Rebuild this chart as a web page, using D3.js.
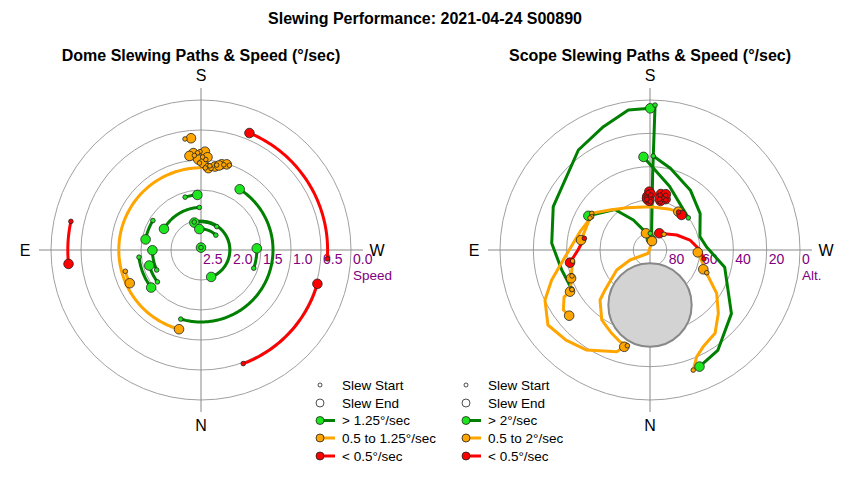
<!DOCTYPE html>
<html>
<head>
<meta charset="utf-8">
<style>
body { margin: 0; background: #fff; }
svg { font-family: Arial, "Liberation Sans", sans-serif; }
</style>
</head>
<body>
<svg width="850" height="480"></svg>
<script src="https://cdn.jsdelivr.net/npm/d3@7"></script>
<script>

// dome slews: [start azimuth, end azimuth, speed °/sec]
var domeSlews = [
  [274, 202.5, 0.39], [339.6, 286.2, 0.48], [102.4, 84, 0.28],
  [183, 15.5, 1.13], [74.3, 65, 1.19],
  [16.3, -147.5, 1.30], [289, 268.3, 1.57], [166.4, 339.3, 2.02], [214, 166.4, 2.03],
  [225, 175.3, 2.15], [163.3, 176.2, 1.58], [177.7, 119.7, 1.79], [121.5, 100.8, 1.56],
  [65.7, 89.7, 1.69], [53.8, 73.3, 1.60], [83.4, 53, 1.46], [180, 180, 2.46],
  [171.8, 174.9, 0.63], [179.4, 182.3, 0.86], [178, 175.5, 0.88], [183, 178.3, 0.99],
  [179, 181.5, 1.05], [187, 185.1, 1.13], [186, 189.5, 1.09], [195, 193.6, 1.03],
  [198.5, 196.7, 1.01], [176, 173, 0.92], [190.5, 192, 1.06], [181, 184, 0.95]
];

// scope slews: speed class and path as [azimuth, altitude]
var scopeClasses = [
  "fast", "fast", "fast", "fast", "fast",
  "mid", "mid", "mid", "mid", "mid", "mid", "mid", "mid", "mid", "mid",
  "slow", "slow", "slow",
  "slow", "slow", "slow", "slow", "slow", "slow", "slow", "slow", "slow", "slow", "slow", "slow"
];
var scopePaths = [
  [[63.5,37.5],[77.2,35.7],[93.9,30.9],[114.1,26.4],[144.4,16.2],[159.3,10.9],[171.2,5],[180.1,5]],
  [[182,3],[182,45],[185,79],[185,83.6]],
  [[182,33.6],[194,39.5],[214,46.7],[234,52.8],[255,59],[267,56],[283,44],[308,28],[326,17.3],[337,14]],
  [[230,60],[197,50],[176,34]],
  [[181,80],[165,78.6],[151,69.4],[139,57.8],[119,47.7]],
  [[122.2,48.7],[135,56],[151.2,61],[180,64],[206.2,62.8],[216.5,61.4]],
  [[119.7,49.7],[104.7,46.6],[83.4,37.6],[73,28.3],[64.5,20.2],[53.7,14],[43,16.1],[32.3,19],[18.1,25.8],[14.9,29.9]],
  [[118.1,49.2],[98.2,48.2]],
  [[81.9,43.1],[70.3,39.7]],
  [[71.6,40.7],[62.5,35.9]],
  [[63.1,37.5],[61.3,31.2],[55.3,26.8],[50.9,27.5]],
  [[13.3,31],[18.1,32.1],[24.7,35],[34.6,39],[45,47.6],[48.4,53.9],[59,66.7],[63.4,76.6],[27,87.8],[192.5,84.5]],
  [[340.2,13.4],[336.4,20.1],[331.1,23.8],[322,26.6],[312.8,34.1],[303,42.3],[294.6,51.5],[289.9,56]],
  [[291.8,53.3],[272.8,61.3]],
  [[221.7,77.4],[166.5,79.7]],
  [[279.5,57.2],[270,60],[256,65.3],[240.7,71.6],[209.1,78.5]],
  [[100.1,50],[90,46.8],[81,41.4]],
  [[217,61.5],[222,61.7]],
  [[178,55.5],[179.3,55]], [[176,58.5],[177.1,57.8]], [[181,57],[180.7,56.4]],
  [[177,60],[177.1,59.6]], [[180.5,61],[179.1,60.5]], [[190.5,56.5],[191,55.8]],
  [[195,57.5],[194.5,56.9]], [[197.5,58.5],[197.1,58.1]], [[192,60.5],[192.1,59.9]],
  [[196,55.8],[195.9,55.2]], [[176.5,59.5],[176.7,58.9]], [[190.5,59],[190.6,58.6]]
];

// moon avoidance zone: [azimuth, altitude, radius deg]
var moon = [0, 57, 25];

var speedTicks = [2.5, 2.0, 1.5, 1.0, 0.5, 0.0];
var altTicks = [80, 60, 40, 20, 0];

var domeLegend = ["Slew Start", "Slew End", "> 1.25°/sec", "0.5 to 1.25°/sec", "< 0.5°/sec"];
var scopeLegend = ["Slew Start", "Slew End", "> 2°/sec", "0.5 to 2°/sec", "< 0.5°/sec"];

var lineColor = {fast: "#008000", mid: "#ffa500", slow: "#ff0000"};
var dotColor = {fast: "#1ee61e", mid: "#ffa500", slow: "#ff0000"};

var svg = d3.select("svg"),
    R = 150;

var rSpeed = d3.scaleLinear().domain([2.5, 0]).range([0, R]).clamp(true);
var rAlt = d3.scaleLinear().domain([90, 0]).range([0, R]);

function polar(r, az) {
  var a = az * Math.PI / 180;
  return [-r * Math.sin(a), r * Math.cos(a)];
}

svg.append("text")
  .attr("x", 425).attr("y", 24)
  .attr("text-anchor", "middle")
  .style("font-size", "16px").style("font-weight", "bold")
  .text("Slewing Performance: 2021-04-24 S00890");

function panel(cx, title, ringR, ticks, tickR, unit) {
  var g = svg.append("g").attr("transform", "translate(" + cx + ",250)");

  svg.append("text")
    .attr("x", cx).attr("y", 61)
    .attr("text-anchor", "middle")
    .style("font-size", "16px").style("font-weight", "bold")
    .text(title);

  g.selectAll(".ring").data(ringR).enter().append("circle")
    .attr("r", function(d) { return d; })
    .attr("fill", "none").attr("stroke", "#a0a0a0");

  g.append("line").attr("x1", -162).attr("x2", 162).attr("stroke", "#888");
  g.append("line").attr("y1", -162).attr("y2", 162).attr("stroke", "#888");

  var dirs = [["S", 0, -175], ["N", 0, 175], ["E", -176, 0], ["W", 176, 0]];
  g.selectAll(".dir").data(dirs).enter().append("text")
    .attr("x", function(d) { return d[1]; })
    .attr("y", function(d) { return d[2]; })
    .attr("dy", "0.35em")
    .attr("text-anchor", "middle")
    .style("font-size", "16px")
    .text(function(d) { return d[0]; });

  g.selectAll(".tick").data(ticks).enter().append("text")
    .attr("x", function(d) { return tickR(d) + 2; })
    .attr("y", 14)
    .attr("fill", "#800080")
    .style("font-size", "14px")
    .text(function(d) { return unit == "Speed" ? d.toFixed(1) : d; });

  g.append("text")
    .attr("x", 152).attr("y", 30)
    .attr("fill", "#800080")
    .style("font-size", "13.5px")
    .text(unit);

  return g;
}

function drawMarks(g, slews) {
  // slews: {cls, pts:[[x,y],...]}
  var line = d3.line();
  g.selectAll(".path").data(slews).enter().append("path")
    .attr("d", function(d) { return line(d.pts); })
    .attr("fill", "none")
    .attr("stroke", function(d) { return lineColor[d.cls]; })
    .attr("stroke-width", 3)
    .attr("stroke-linejoin", "round");

  g.selectAll(".end").data(slews).enter().append("circle")
    .attr("cx", function(d) { return d.pts[d.pts.length - 1][0]; })
    .attr("cy", function(d) { return d.pts[d.pts.length - 1][1]; })
    .attr("r", 4.8)
    .attr("fill", function(d) { return dotColor[d.cls]; })
    .attr("stroke", "#222").attr("stroke-width", 0.8);

  g.selectAll(".start").data(slews).enter().append("circle")
    .attr("cx", function(d) { return d.pts[0][0]; })
    .attr("cy", function(d) { return d.pts[0][1]; })
    .attr("r", 2.3)
    .attr("fill", function(d) { return dotColor[d.cls]; })
    .attr("stroke", "#222").attr("stroke-width", 0.8);
}

function legend(x0, labels) {
  var rows = [385, 403, 420.5, 438, 456];
  var cls = [null, null, "fast", "mid", "slow"];
  var lg = svg.append("g").style("font-size", "13.5px");
  labels.forEach(function(t, i) {
    if (cls[i]) {
      lg.append("line")
        .attr("x1", x0).attr("x2", x0 + 15)
        .attr("y1", rows[i]).attr("y2", rows[i])
        .attr("stroke", lineColor[cls[i]]).attr("stroke-width", 3);
    }
    lg.append("circle")
      .attr("cx", x0).attr("cy", rows[i])
      .attr("r", i == 0 ? 2 : 4)
      .attr("fill", cls[i] ? dotColor[cls[i]] : "#fff")
      .attr("stroke", "#222").attr("stroke-width", 0.8);
    lg.append("text")
      .attr("x", x0 + 22).attr("y", rows[i])
      .attr("dy", "0.35em")
      .text(t);
  });
}

// dome panel
var dome = panel(201, "Dome Slewing Paths & Speed (°/sec)",
  speedTicks.slice(1).map(rSpeed), speedTicks, rSpeed, "Speed");

var domeData = domeSlews.map(function(s) {
  var r = rSpeed(s[2]);
  var n = Math.max(2, Math.ceil(Math.abs(s[1] - s[0])) + 1);
  var pts = d3.range(n).map(function(i) {
    return polar(r, s[0] + (s[1] - s[0]) * i / (n - 1));
  });
  var cls = s[2] > 1.25 ? "fast" : (s[2] >= 0.5 ? "mid" : "slow");
  return {cls: cls, pts: pts};
});
drawMarks(dome, domeData);

// scope panel
var scope = panel(650, "Scope Slewing Paths & Speed (°/sec)",
  altTicks.map(rAlt), altTicks, rAlt, "Alt.");

var mc = polar(rAlt(moon[1]), moon[0]);
scope.append("circle")
  .attr("cx", mc[0]).attr("cy", mc[1])
  .attr("r", rAlt(90 - moon[2]))
  .attr("fill", "#d3d3d3")
  .attr("stroke", "#888").attr("stroke-width", 2);

var scopeData = scopePaths.map(function(p, i) {
  return {cls: scopeClasses[i], pts: p.map(function(d) { return polar(rAlt(d[1]), d[0]); })};
});
drawMarks(scope, scopeData);

legend(320, domeLegend);
legend(466, scopeLegend);

</script>
</body>
</html>
